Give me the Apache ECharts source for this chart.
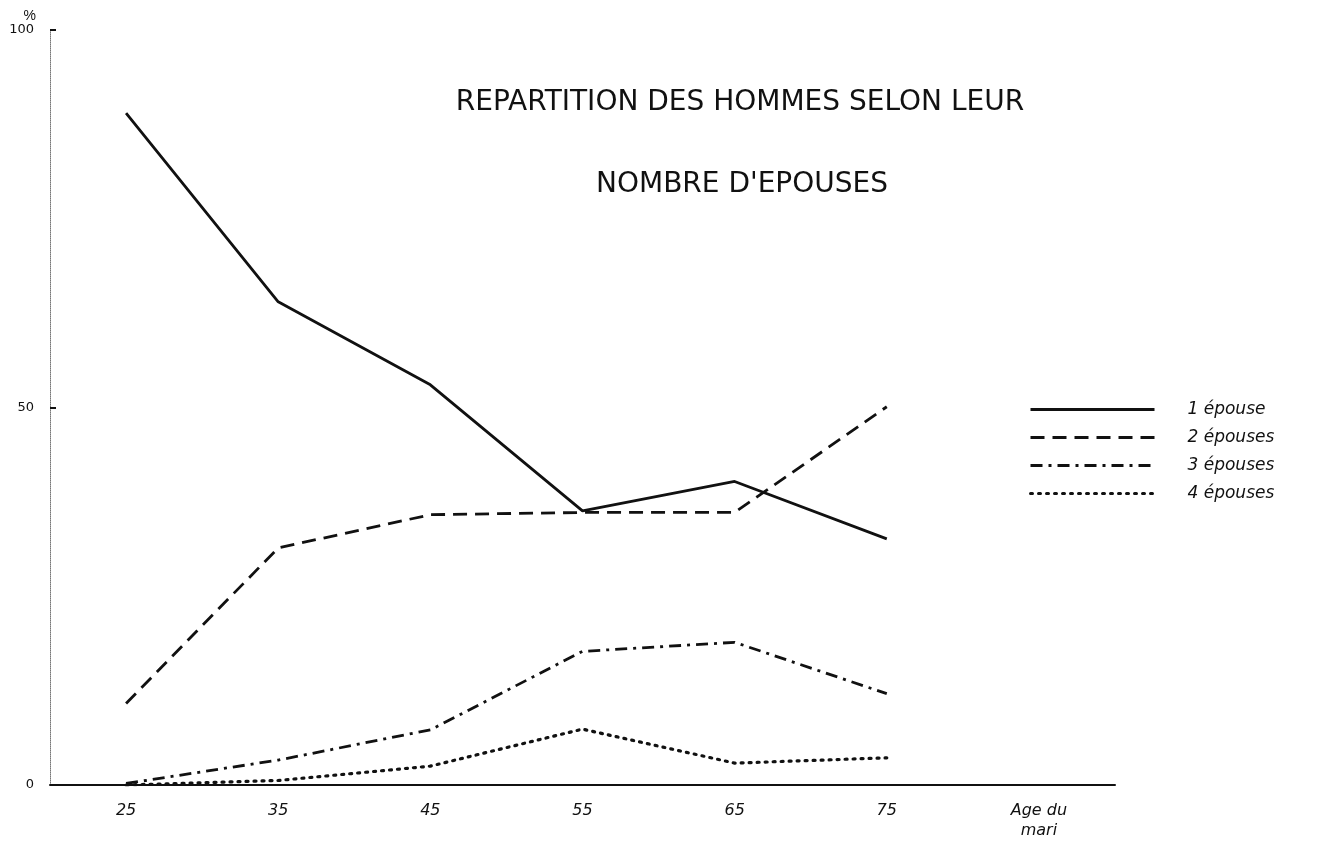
<!DOCTYPE html>
<html>
<head>
<meta charset="utf-8">
<title>Repartition des hommes selon leur nombre d'epouses</title>
<script src="https://cdn.jsdelivr.net/npm/echarts@6/dist/echarts.min.js"></script>
<style>
  html, body { margin: 0; padding: 0; background: #fff; }
  #chart { width: 1342px; height: 841px; }
</style>
</head>
<body>
<div id="chart"></div>
<script>
  // ages du mari (derniere colonne = libelle de l'axe)
  const categories = ['25', '35', '45', '55', '65', '75', 'Age du\nmari']
  const legendNames = ['1 épouse', '2 épouses', '3 épouses', '4 épouses']
  // pourcentages
  const epouse1 = [89.0, 64.0, 53.0, 36.3, 40.2, 32.6, null]
  const epouse2 = [10.8, 31.4, 35.8, 36.1, 36.1, 50.1, null]
  const epouse3 = [0.2, 3.3, 7.3, 17.7, 18.9, 12.1, null]
  const epouse4 = [0, 0.6, 2.5, 7.4, 2.9, 3.6, null]
  const yTicks = [0, 50, 100]

  const dashTypes = ['solid', [14, 8], [12, 6, 3, 6], [2, 6]]
  const lineWidths = [2.8, 2.8, 2.8, 3.2]

  const chart = echarts.init(document.getElementById('chart'))
  chart.setOption({
    backgroundColor: '#fff',
    animation: false,
    title: [{
      text: 'REPARTITION DES HOMMES SELON LEUR',
      left: 735,
      top: 84,
      textAlign: 'center',
      textStyle: { color: '#111', fontFamily: 'DejaVu Sans', fontWeight: 'normal', fontSize: 28 }
    }, {
      text: "NOMBRE D'EPOUSES",
      left: 737,
      top: 166,
      textAlign: 'center',
      textStyle: { color: '#111', fontFamily: 'DejaVu Sans', fontWeight: 'normal', fontSize: 28 }
    }],
    legend: {
      orient: 'vertical',
      left: 1024,
      top: 396,
      itemWidth: 124,
      itemHeight: 14,
      itemGap: 11,
      itemStyle: { opacity: 0 },
      lineStyle: { width: 3 },
      data: legendNames,
      textStyle: { color: '#111', fontFamily: 'DejaVu Sans', fontStyle: 'italic', fontSize: 17, padding: [0, 0, 0, 28] }
    },
    grid: { left: 50, right: 227, top: 30, bottom: 54, containLabel: false },
    xAxis: {
      type: 'category',
      boundaryGap: true,
      data: categories,
      axisLine: { lineStyle: { color: '#111', width: 2 } },
      axisTick: {
        inside: true,
        alignWithLabel: true,
        length: 8,
        interval: function(index) { return index < 6 },
        lineStyle: { color: '#222', width: 1.5 }
      },
      axisLabel: {
        color: '#111',
        fontFamily: 'DejaVu Sans',
        fontStyle: 'italic',
        fontSize: 16,
        margin: 16,
        lineHeight: 20
      },
      splitLine: { show: false }
    },
    yAxis: {
      type: 'value',
      min: 0,
      max: 100,
      interval: 50,
      name: '%',
      nameLocation: 'end',
      nameGap: 6,
      nameTextStyle: { color: '#111', fontSize: 14, align: 'right', padding: [0, 14, 0, 0] },
      axisLine: { show: true, lineStyle: { color: '#777', width: 1, type: 'dotted' } },
      axisTick: { show: true, inside: true, length: 6, lineStyle: { color: '#111', width: 2 } },
      axisLabel: {
        margin: 16,
        color: '#111',
        fontFamily: 'DejaVu Sans',
        fontSize: 13,
        formatter: function(v) { return yTicks.indexOf(v) >= 0 ? String(v) : '' }
      },
      splitLine: { show: false }
    },
    series: [epouse1, epouse2, epouse3, epouse4].map(function(values, i) {
      return {
        name: legendNames[i],
        type: 'line',
        data: values,
        symbol: 'none',
        connectNulls: false,
        itemStyle: { color: '#111' },
        lineStyle: { color: '#111', width: lineWidths[i], type: dashTypes[i], cap: i === 3 ? 'round' : 'butt' }
      }
    })
  })
</script>
</body>
</html>
